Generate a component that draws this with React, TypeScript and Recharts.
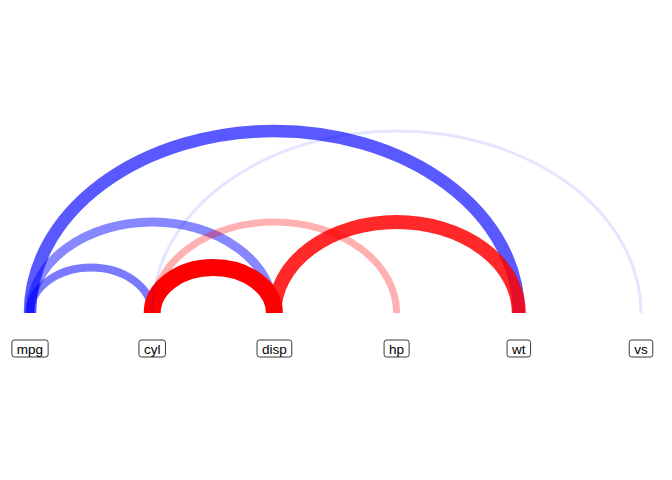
import React, { useLayoutEffect, useRef, useState } from 'react'
import { ComposedChart, Scatter, XAxis, YAxis } from 'recharts'

// nodes along the line
const nodeNames = ['mpg', 'cyl', 'disp', 'hp', 'wt', 'vs']

// edges (1-based node positions) and their sign
const edgeFrom = [1, 1, 1, 2, 2, 2, 3]
const edgeTo = [2, 3, 5, 3, 4, 6, 5]
const edgeSign = [-1, -1, -1, 1, 1, -1, 1]

// styles for each edge, same order as above
const edgeWidth = [8, 9, 12.5, 17, 7, 3, 14]
const edgeAlpha = [0.52, 0.47, 0.65, 1, 0.31, 0.1, 0.84]

const nodeData = nodeNames.map((name, i) => ({ x: i + 1, y: 0, name }))

const edges = edgeFrom.map((from, i) => ({
  id: `${nodeNames[from - 1]}-${nodeNames[edgeTo[i] - 1]}`,
  sign: edgeSign[i],
  width: edgeWidth[i],
  alpha: edgeAlpha[i],
  data: [
    { x: from, y: 0 },
    { x: (from + edgeTo[i]) / 2, y: (edgeTo[i] - from) / 2 },
    { x: edgeTo[i], y: 0 },
  ],
}))

const makeArc = (color: string, width: number, alpha: number) => (props: any) => {
  const pts = props.points || []
  if (pts.length < 3) return null
  const [a, top, b] = pts
  const rx = (b.x - a.x) / 2
  const ry = a.y - top.y
  return (
    <path
      d={`M ${a.x} ${a.y} A ${rx} ${ry} 0 0 1 ${b.x} ${b.y}`}
      fill="none"
      stroke={color}
      strokeOpacity={alpha}
      strokeWidth={width}
      strokeLinecap="butt"
    />
  )
}

const NodeLabel = (props: any) => {
  const { cx, cy, payload } = props
  const ref = useRef<SVGTextElement>(null)
  const [w, setW] = useState(26)
  useLayoutEffect(() => {
    if (ref.current) setW(ref.current.getComputedTextLength())
  }, [payload.name])
  const y = cy + 35.5
  const boxW = w + 10
  const boxH = 17
  return (
    <g>
      <rect
        x={cx - boxW / 2}
        y={y - boxH / 2}
        width={boxW}
        height={boxH}
        rx={2.5}
        ry={2.5}
        fill="#ffffff"
        stroke="#222222"
        strokeWidth={0.9}
      />
      <text
        ref={ref}
        x={cx}
        y={y + 0.5}
        textAnchor="middle"
        dominantBaseline="central"
        fontFamily="'Liberation Sans', Arial, sans-serif"
        fontSize={13.5}
        fill="#000000"
      >
        {payload.name}
      </text>
    </g>
  )
}

const App: React.FC = () => {
  return (
    <div style={{ position: 'absolute', left: 0, top: 0, background: '#ffffff' }}>
      <ComposedChart width={672} height={480} margin={{ top: 40, right: 31, bottom: 167, left: 30 }}>
        <XAxis type="number" dataKey="x" domain={[1, 6]} hide />
        <YAxis type="number" dataKey="y" domain={[0, 3]} hide />
        {edges.map((e) => (
          <Scatter
            key={e.id}
            data={e.data}
            shape={() => <g />}
            line={makeArc(e.sign < 0 ? '#0000ff' : '#ff0000', e.width, e.alpha)}
            lineType="joint"
            isAnimationActive={false}
          />
        ))}
        <Scatter data={nodeData} shape={NodeLabel} isAnimationActive={false} />
      </ComposedChart>
    </div>
  )
}

export default App
